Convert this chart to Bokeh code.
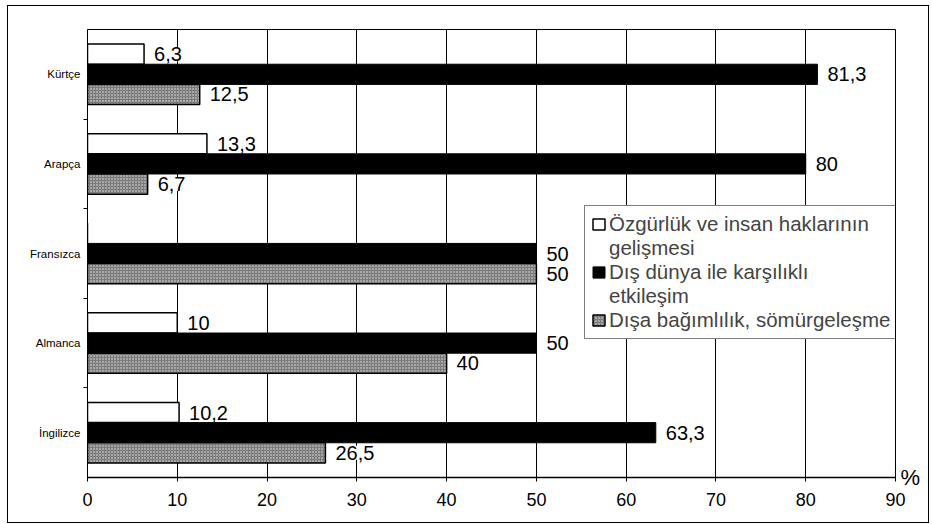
from bokeh.plotting import figure
from bokeh.models import (ColumnDataSource, Range1d, FixedTicker, LabelSet,
                          Legend, LegendItem, LinearAxis)
from bokeh.core.properties import value
from bokeh.transform import dodge
from bokeh.embed import file_html
from bokeh.resources import INLINE

# ---- data ----
languages = ["İngilizce", "Almanca", "Fransızca", "Arapça", "Kürtçe"]   # bottom -> top
legend_lines = [("Özgürlük ve insan haklarının", "gelişmesi"),
                ("Dış dünya ile karşılıklı", "etkileşim"),
                ("Dışa bağımlılık, sömürgeleşme", None)]
ozgurluk = [10.2, 10, 0, 13.3, 6.3]
dis_dunya = [63.3, 50, 50, 80, 81.3]
bagimlilik = [26.5, 40, 50, 6.7, 12.5]
x_ticks = [0, 10, 20, 30, 40, 50, 60, 70, 80, 90]
unit_label = "%"


def fmt(v):
    return "" if v == 0 else f"{v:g}".replace(".", ",")


pos = list(range(len(languages)))
src = ColumnDataSource(dict(
    y=pos,
    oz=ozgurluk, dd=dis_dunya, bg=bagimlilik,
    oz_l=[fmt(v) for v in ozgurluk],
    dd_l=[fmt(v) for v in dis_dunya],
    bg_l=[fmt(v) for v in bagimlilik],
))

FONT = "Liberation Sans"

p = figure(width=920, height=516, output_backend="svg", toolbar_location=None,
           x_range=Range1d(0, 90), y_range=Range1d(-0.5, len(languages) - 0.5),
           min_border_left=79, min_border_right=33, min_border_top=23,
           min_border_bottom=45)
p.margin = (6, 0, 0, 8)
p.styles = {"outline": "1px solid black"}
p.outline_line_color = "black"
p.outline_line_width = 1
p.background_fill_color = "white"
p.border_fill_color = "white"

bh = 0.225
r_oz = p.hbar(y=dodge("y", bh, range=p.y_range), right="oz", left=0, height=bh,
              source=src, fill_color="white", line_color="black", line_width=1.5)
r_dd = p.hbar(y=dodge("y", 0, range=p.y_range), right="dd", left=0, height=bh,
              source=src, fill_color="black", line_color="black", line_width=1)
r_bg = p.hbar(y=dodge("y", -bh, range=p.y_range), right="bg", left=0, height=bh,
              source=src, fill_color="#7c7c7c", line_color="black", line_width=1.5,
              hatch_pattern="dot", hatch_color="#e6e6e6", hatch_scale=3, hatch_weight=1)
# empty, invisible renderer used for the second lines of the legend labels
r_blank = p.hbar(y=[], right=[], height=bh, fill_color=None, line_color=None)

for col, off in (("oz", bh), ("dd", 0), ("bg", -bh)):
    ls = LabelSet(x=col, y=dodge("y", off, range=p.y_range), text=col + "_l", source=src,
                  x_offset=10, text_baseline="middle", text_align="left",
                  text_font=value(FONT), text_font_size="20px", text_color="black",
                  background_fill_color="white")
    p.add_layout(ls)

# x axis
p.xaxis.ticker = FixedTicker(ticks=x_ticks)
p.xaxis.major_label_text_font = FONT
p.xaxis.major_label_text_font_size = "18px"
p.xaxis.major_label_text_color = "black"
p.xaxis.major_label_standoff = 11
p.xaxis.major_tick_in = 2
p.xaxis.major_tick_out = 4
p.xaxis.minor_tick_line_color = None
p.xaxis.axis_line_color = "black"
p.xaxis.axis_line_width = 1.5

# y axis
p.yaxis.ticker = FixedTicker(ticks=pos, minor_ticks=[i + 0.5 for i in pos[:-1]])
p.yaxis.major_label_overrides = {i: name for i, name in zip(pos, languages)}
p.yaxis.major_label_text_font = FONT
p.yaxis.major_label_text_font_size = "11.5px"
p.yaxis.major_label_text_color = "black"
p.yaxis.major_tick_in = 0
p.yaxis.major_tick_out = 0
p.yaxis.minor_tick_in = 0
p.yaxis.minor_tick_out = 4
p.yaxis.minor_tick_line_color = "black"
p.yaxis.major_label_standoff = 3
p.yaxis.axis_line_color = "black"

# right-hand axis carrying only the unit label "%"
unit_axis = LinearAxis(ticker=FixedTicker(ticks=[]), axis_label=unit_label,
                       axis_label_orientation="horizontal", axis_label_align="start",
                       axis_label_standoff=5, axis_label_text_font=FONT,
                       axis_label_text_font_size="22px", axis_label_text_font_style="normal",
                       axis_label_text_color="black", axis_line_color=None,
                       major_tick_line_color=None, minor_tick_line_color=None,
                       major_label_text_font_size="0px")
p.add_layout(unit_axis, "right")

p.xgrid.ticker = FixedTicker(ticks=x_ticks[1:-1])
p.xgrid.grid_line_color = "black"
p.xgrid.grid_line_width = 1
p.ygrid.grid_line_color = None

items = []
for (first, second), r in zip(legend_lines, (r_oz, r_dd, r_bg)):
    items.append(LegendItem(label=first, renderers=[r]))
    if second:
        items.append(LegendItem(label=second, renderers=[r_blank]))

legend = Legend(items=items, location=(497, 138), orientation="vertical",
                label_text_font=FONT, label_text_font_size="20.5px",
                label_text_line_height=0.8, label_standoff=3, label_height=21,
                glyph_width=15, glyph_height=14, spacing=0, padding=6, margin=0,
                border_line_color="black", border_line_width=1,
                background_fill_color="white", background_fill_alpha=1)
p.add_layout(legend)

open("out.html", "w").write(file_html(p, INLINE))
